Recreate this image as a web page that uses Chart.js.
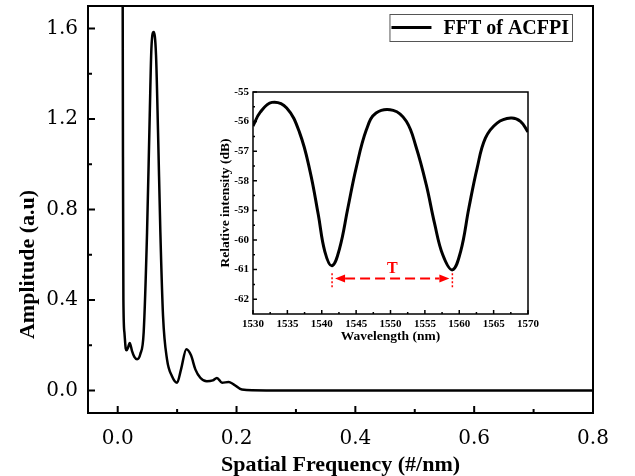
<!DOCTYPE html>
<html>
<head>
<meta charset="utf-8">
<script src="https://cdn.jsdelivr.net/npm/chart.js@4.4.1/dist/chart.umd.min.js"></script>
<style>
  html, body { margin: 0; padding: 0; background: #fff; }
  #wrap { position: relative; width: 635px; height: 476px; }
  #main { position: absolute; left: 0; top: 0; }
  #inset { position: absolute; left: 205px; top: 80px; }
</style>
</head>
<body>
<div id="wrap">
  <canvas id="main" width="635" height="476"></canvas>
  <canvas id="inset" width="335" height="265"></canvas>
</div>
<script>
// FFT of the spectrum (main plot)
var freq = [0.0080, 0.0084, 0.0090, 0.0096, 0.0113, 0.0135, 0.0150, 0.0175, 0.0202, 0.0240, 0.0280,
            0.0326, 0.0380, 0.0437, 0.0494, 0.0539, 0.0567, 0.0606, 0.0645, 0.0679, 0.0718, 0.0763,
            0.0830, 0.0914, 0.0999, 0.1066, 0.1155, 0.1234, 0.1307, 0.1390, 0.1500, 0.1600, 0.1670,
            0.1756, 0.1867, 0.1950, 0.2090, 0.2500, 0.4000, 0.6000, 0.8000];
var amp = [3.00, 1.70, 0.90, 0.40, 0.256, 0.185, 0.177, 0.190, 0.210, 0.175, 0.148,
           0.138, 0.160, 0.256, 0.699, 1.216, 1.511, 1.585, 1.482, 1.142, 0.699, 0.329,
           0.137, 0.063, 0.034, 0.093, 0.182, 0.155, 0.093, 0.056, 0.040, 0.044, 0.055,
           0.034, 0.037, 0.027, 0.004, 0, 0, 0, 0];
var freqTicks = [0, 0.2, 0.4, 0.6, 0.8];
var ampTicks = [0, 0.4, 0.8, 1.2, 1.6];

// reflection spectrum (inset)
var wavelength = [1530, 1531.06, 1532.75, 1534.9, 1536.8, 1538.3, 1539.5, 1540.45, 1541.5, 1542.6,
                  1543.8, 1545.0, 1546.5, 1547.9, 1550.4, 1552.3, 1553.7, 1555.2, 1556.4,
                  1557.6, 1559.0, 1560.2, 1561.4, 1562.6, 1563.8, 1565.5, 1567.5, 1568.9, 1570];
var intensity = [-56.15, -55.68, -55.35, -55.54, -56.39, -57.68, -59.15, -60.39, -60.87, -60.28,
                 -58.92, -57.57, -56.27, -55.71, -55.62, -55.99, -56.84, -58.13, -59.43,
                 -60.50, -61.01, -60.39, -58.92, -57.57, -56.56, -56.05, -55.88, -55.99, -56.35];
var wlTicks = [1530, 1535, 1540, 1545, 1550, 1555, 1560, 1565, 1570];
var dbTicks = [-62, -61, -60, -59, -58, -57, -56, -55];

// period T between the two dips
var dipWavelengths = [1541.5, 1559.0];
var dipMarkRange = [-61.12, -61.65];
var arrowLevel = -61.3;
var labelLevel = -60.97;

function midpoints(arr) {
    var out = [];
    for (var i = 0; i < arr.length - 1; i++) out.push((arr[i] + arr[i + 1]) / 2);
    return out;
}

// keep the plot box where the axes put it, no extra label padding
function noPad(s) {
    s.paddingTop = 0; s.paddingBottom = 0;
    s.paddingLeft = 0; s.paddingRight = 0;
}

// box frame + inward ticks
function frameTicks(id, lw, major, minor) {
    return {
        id: id,
        afterDatasetsDraw: function (chart) {
            var ctx = chart.ctx, a = chart.chartArea;
            var xs = chart.scales.x, ys = chart.scales.y;
            ctx.save();
            ctx.strokeStyle = "#000";
            ctx.lineWidth = lw;
            ctx.strokeRect(a.left, a.top, a.right - a.left, a.bottom - a.top);
            ctx.beginPath();
            var xt = xs.ticks.map(function (t) { return t.value; });
            var yt = ys.ticks.map(function (t) { return t.value; });
            xt.forEach(function (v) { var p = xs.getPixelForValue(v); ctx.moveTo(p, a.bottom); ctx.lineTo(p, a.bottom - major); });
            midpoints(xt).forEach(function (v) { var p = xs.getPixelForValue(v); ctx.moveTo(p, a.bottom); ctx.lineTo(p, a.bottom - minor); });
            yt.forEach(function (v) { var p = ys.getPixelForValue(v); ctx.moveTo(a.left, p); ctx.lineTo(a.left + major, p); });
            midpoints(yt).forEach(function (v) { var p = ys.getPixelForValue(v); ctx.moveTo(a.left, p); ctx.lineTo(a.left + minor, p); });
            ctx.stroke();
            ctx.restore();
        }
    };
}

var legendBox = {
    id: "legendBox",
    afterDraw: function (chart) {
        var ctx = chart.ctx, a = chart.chartArea, ds = chart.data.datasets[0];
        ctx.save();
        ctx.font = "bold 20px 'Liberation Serif'";
        var tw = ctx.measureText(ds.label).width;
        var h = 27, right = a.right - 21, top = a.top + 8;
        var w = 2 + 40 + 12 + tw + 3;
        var left = right - w;
        ctx.strokeStyle = "#555";
        ctx.lineWidth = 1;
        ctx.strokeRect(left + 0.5, top + 0.5, w, h);
        ctx.strokeStyle = "#000";
        ctx.lineWidth = 3;
        ctx.beginPath();
        ctx.moveTo(left + 2, top + h / 2);
        ctx.lineTo(left + 42, top + h / 2);
        ctx.stroke();
        ctx.fillStyle = "#000";
        ctx.textBaseline = "middle";
        ctx.fillText(ds.label, left + 54, top + h / 2 + 1);
        ctx.restore();
    }
};

var ampTitle = {
    id: "ampTitle",
    afterDraw: function (chart) {
        var ctx = chart.ctx, a = chart.chartArea;
        ctx.save();
        ctx.translate(a.left - 60, (a.top + a.bottom) / 2 + 55);
        ctx.rotate(-Math.PI / 2);
        ctx.font = "bold 22px 'Liberation Serif'";
        ctx.fillStyle = "#000";
        ctx.textAlign = "center";
        ctx.textBaseline = "middle";
        ctx.fillText("Amplitude (a.u)", 0, 0);
        ctx.restore();
    }
};

var periodMark = {
    id: "periodMark",
    afterDatasetsDraw: function (chart) {
        var ctx = chart.ctx, xs = chart.scales.x, ys = chart.scales.y;
        var x1 = xs.getPixelForValue(dipWavelengths[0]);
        var x2 = xs.getPixelForValue(dipWavelengths[1]);
        var yA = ys.getPixelForValue(arrowLevel);
        ctx.save();
        ctx.strokeStyle = "red";
        ctx.fillStyle = "red";
        // dotted verticals at the dips
        ctx.lineWidth = 1.5;
        ctx.setLineDash([2, 2]);
        ctx.beginPath();
        [x1, x2].forEach(function (x) {
            ctx.moveTo(x, ys.getPixelForValue(dipMarkRange[0]));
            ctx.lineTo(x, ys.getPixelForValue(dipMarkRange[1]));
        });
        ctx.stroke();
        // dashed double arrow
        var l = x1 + 3, r = x2 - 3, head = 10;
        ctx.lineWidth = 2;
        ctx.setLineDash([10, 5]);
        ctx.beginPath();
        ctx.moveTo(l + head, yA);
        ctx.lineTo(r - head, yA);
        ctx.stroke();
        ctx.setLineDash([]);
        ctx.beginPath();
        ctx.moveTo(l, yA); ctx.lineTo(l + head, yA - 4); ctx.lineTo(l + head, yA + 4); ctx.closePath();
        ctx.moveTo(r, yA); ctx.lineTo(r - head, yA - 4); ctx.lineTo(r - head, yA + 4); ctx.closePath();
        ctx.fill();
        ctx.font = "bold 16px 'Liberation Serif'";
        ctx.textAlign = "center";
        ctx.textBaseline = "middle";
        ctx.fillText("T", (x1 + x2) / 2, ys.getPixelForValue(labelLevel));
        ctx.restore();
    }
};

new Chart(document.getElementById("main").getContext("2d"), {
    type: "line",
    data: {
        datasets: [{
            label: "FFT of ACFPI",
            data: freq.map(function (f, i) { return { x: f, y: amp[i] }; }),
            borderColor: "#000",
            borderWidth: 2.5,
            pointRadius: 0,
            cubicInterpolationMode: "monotone",
            fill: false
        }]
    },
    options: {
        responsive: false,
        animation: false,
        layout: { padding: { top: 6, right: 42, left: 0, bottom: 0 } },
        plugins: { legend: { display: false }, tooltip: { enabled: false } },
        scales: {
            x: {
                type: "linear", min: -0.05, max: 0.8,
                grid: { display: false, drawTicks: false },
                border: { display: false },
                afterBuildTicks: function (s) { s.ticks = freqTicks.map(function (v) { return { value: v }; }); },
                afterFit: function (s) { s.height = 63; noPad(s); },
                ticks: {
                    padding: 14, color: "#000", maxRotation: 0, autoSkip: false,
                    font: { family: "DejaVu Serif", size: 20 },
                    callback: function (v) { return v.toFixed(1); }
                },
                title: {
                    display: true, text: "Spatial Frequency (#/nm)", color: "#000",
                    font: { family: "Liberation Serif", weight: "bold", size: 22 },
                    padding: { top: 0, bottom: -3 }
                }
            },
            y: {
                min: -0.1, max: 1.7,
                grid: { display: false, drawTicks: false },
                border: { display: false },
                afterBuildTicks: function (s) { s.ticks = ampTicks.map(function (v) { return { value: v }; }); },
                afterFit: function (s) { s.width = 88; noPad(s); },
                ticks: {
                    padding: 10, color: "#000", autoSkip: false,
                    font: { family: "DejaVu Serif", size: 20 },
                    callback: function (v) { return v.toFixed(1); }
                }
            }
        }
    },
    plugins: [frameTicks("mainFrame", 2, 7, 4), legendBox, ampTitle]
});

new Chart(document.getElementById("inset").getContext("2d"), {
    type: "line",
    data: {
        datasets: [{
            label: "spectrum",
            data: wavelength.map(function (w, i) { return { x: w, y: intensity[i] }; }),
            borderColor: "#000",
            borderWidth: 3,
            pointRadius: 0,
            tension: 0.4,
            fill: false
        }]
    },
    options: {
        responsive: false,
        animation: false,
        layout: { padding: { top: 12, right: 12, left: 0, bottom: 0 } },
        plugins: { legend: { display: false }, tooltip: { enabled: false } },
        scales: {
            x: {
                type: "linear", min: 1530, max: 1570,
                grid: { display: false, drawTicks: false },
                border: { display: false },
                afterBuildTicks: function (s) { s.ticks = wlTicks.map(function (v) { return { value: v }; }); },
                afterFit: function (s) { s.height = 31; noPad(s); },
                ticks: {
                    padding: 4, color: "#000", maxRotation: 0, autoSkip: false,
                    font: { family: "Liberation Serif", weight: "bold", size: 11 },
                    callback: function (v) { return String(v); }
                },
                title: {
                    display: true, text: "Wavelength (nm)", color: "#000",
                    font: { family: "Liberation Serif", weight: "bold", size: 13.5 },
                    padding: { top: 0, bottom: 0 }
                }
            },
            y: {
                min: -62.5, max: -55,
                grid: { display: false, drawTicks: false },
                border: { display: false },
                afterBuildTicks: function (s) { s.ticks = dbTicks.map(function (v) { return { value: v }; }); },
                afterFit: function (s) { s.width = 48; noPad(s); },
                ticks: {
                    padding: 4, color: "#000", autoSkip: false,
                    font: { family: "Liberation Serif", weight: "bold", size: 11 },
                    callback: function (v) { return String(v); }
                },
                title: {
                    display: true, text: "Relative intensity (dB)", color: "#000",
                    font: { family: "Liberation Serif", weight: "bold", size: 13.5 },
                    padding: { top: 12, bottom: 0 }
                }
            }
        }
    },
    plugins: [frameTicks("insetFrame", 1.5, 4, 2), periodMark]
});
</script>
</body>
</html>
